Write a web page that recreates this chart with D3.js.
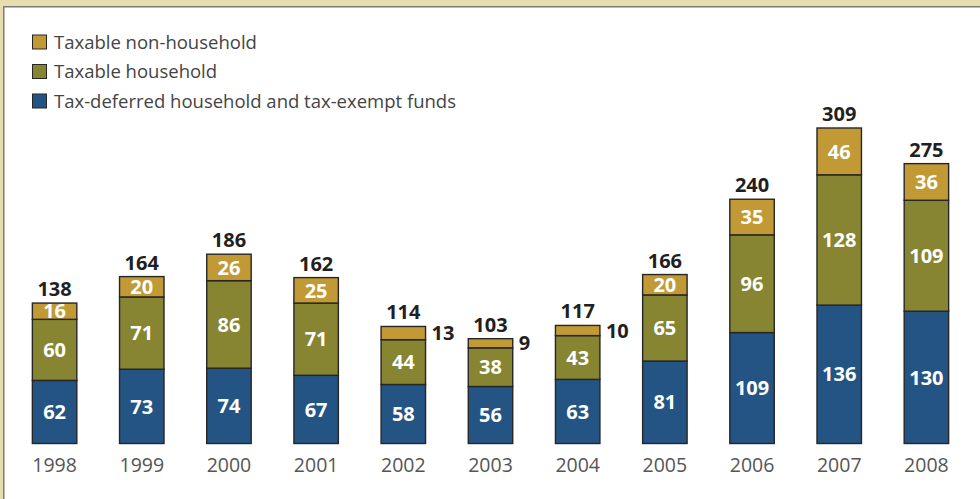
<!DOCTYPE html>
<html>
<head>
<meta charset="utf-8">
<script src="https://cdn.jsdelivr.net/npm/d3@7"></script>
<style>
  html, body { margin: 0; padding: 0; background: #fff; }
  svg { display: block; }
</style>
</head>
<body>
<svg id="chart" width="980" height="499"></svg>
<script>
// Years shown on the x axis
const years = ["1998","1999","2000","2001","2002","2003","2004","2005","2006","2007","2008"];
// Stacked components (bottom to top)
const taxDeferred = [62, 73, 74, 67, 58, 56, 63, 81, 109, 136, 130];
const taxableHousehold = [60, 71, 86, 71, 44, 38, 43, 65, 96, 128, 109];
const taxableNonHousehold = [16, 20, 26, 25, 13, 9, 10, 20, 35, 46, 36];
// Published totals printed above each bar
const totals = [138, 164, 186, 162, 114, 103, 117, 166, 240, 309, 275];

const seriesNames = ["Tax-deferred household and tax-exempt funds", "Taxable household", "Taxable non-household"];
const seriesKeys = ["deferred", "household", "nonhousehold"];
const colors = ["#245484", "#878432", "#C19A36"];

const rows = years.map((y, i) => ({
  year: y,
  deferred: taxDeferred[i],
  household: taxableHousehold[i],
  nonhousehold: taxableNonHousehold[i],
  total: totals[i]
}));

const svg = d3.select("#chart");
const W = 980, H = 499;
const font = "'Open Sans', 'Noto Sans', sans-serif";

// Frame: tan band across top and down the left side, with grey rules
svg.append("rect").attr("x", 0).attr("y", 0).attr("width", W).attr("height", 6).attr("fill", "#E8DDAE");
svg.append("rect").attr("x", 0).attr("y", 0).attr("width", 3).attr("height", H).attr("fill", "#E8DDAE");
svg.append("rect").attr("x", 3).attr("y", 6).attr("width", W - 3).attr("height", 1.5).attr("fill", "#7d7b78");
svg.append("rect").attr("x", 3).attr("y", 6).attr("width", 1.5).attr("height", H - 6).attr("fill", "#7d7b78");

const baseline = 443.5;
const x = d3.scaleBand().domain(years).range([11, 970]).paddingInner(0.49).paddingOuter(0.245);
const y = d3.scaleLinear().domain([0, 310]).range([baseline, baseline - 315.5]);

const stack = d3.stack().keys(seriesKeys)(rows);

const g = svg.append("g");
stack.forEach((layer, li) => {
  g.selectAll(null).data(layer).enter().append("rect")
    .attr("x", d => x(d.data.year))
    .attr("y", d => y(d[1]))
    .attr("width", x.bandwidth())
    .attr("height", d => y(d[0]) - y(d[1]))
    .attr("fill", colors[li])
    .attr("stroke", "#262626")
    .attr("stroke-width", 1.4);
});

// Segment value labels: inside when the segment is tall enough, otherwise to the right
stack.forEach((layer, li) => {
  g.selectAll(null).data(layer).enter().append("text")
    .attr("x", d => {
      const v = d[1] - d[0];
      return v >= 15 ? x(d.data.year) + x.bandwidth() / 2 : x(d.data.year) + x.bandwidth() + 6;
    })
    .attr("y", d => (y(d[0]) + y(d[1])) / 2)
    .attr("dy", "0.36em")
    .attr("text-anchor", d => (d[1] - d[0]) >= 15 ? "middle" : "start")
    .attr("fill", d => (d[1] - d[0]) >= 15 ? "#fff" : "#231f20")
    .attr("font-family", font)
    .attr("font-weight", 700)
    .attr("font-size", 20)
    .text(d => d[1] - d[0]);
});

// Totals above bars
g.selectAll(null).data(rows).enter().append("text")
  .attr("x", d => x(d.year) + x.bandwidth() / 2)
  .attr("y", d => y(d.deferred + d.household + d.nonhousehold) - 7)
  .attr("text-anchor", "middle")
  .attr("fill", "#231f20")
  .attr("font-family", font)
  .attr("font-weight", 700)
  .attr("font-size", 20)
  .text(d => d.total);

// Year axis
const axis = d3.axisBottom(x).tickSize(0).tickPadding(0);
const ax = svg.append("g").attr("transform", `translate(0,${baseline})`).call(axis);
ax.select(".domain").remove();
ax.selectAll("text")
  .attr("y", 28)
  .attr("dy", null)
  .attr("font-family", font)
  .attr("font-size", 19.5)
  .attr("fill", "#555");

// Legend (top to bottom: non-household, household, tax-deferred)
const legendOrder = [2, 1, 0];
const lg = svg.append("g");
legendOrder.forEach((si, i) => {
  const cy = 42 + i * 29.5;
  lg.append("rect").attr("x", 32.5).attr("y", cy - 7).attr("width", 14).attr("height", 14)
    .attr("fill", colors[si]).attr("stroke", "#262626").attr("stroke-width", 1);
  lg.append("text").attr("x", 54).attr("y", cy).attr("dy", "0.36em")
    .attr("font-family", font).attr("font-size", 18.5).attr("fill", "#444")
    .text(seriesNames[si]);
});
</script>
</body>
</html>
